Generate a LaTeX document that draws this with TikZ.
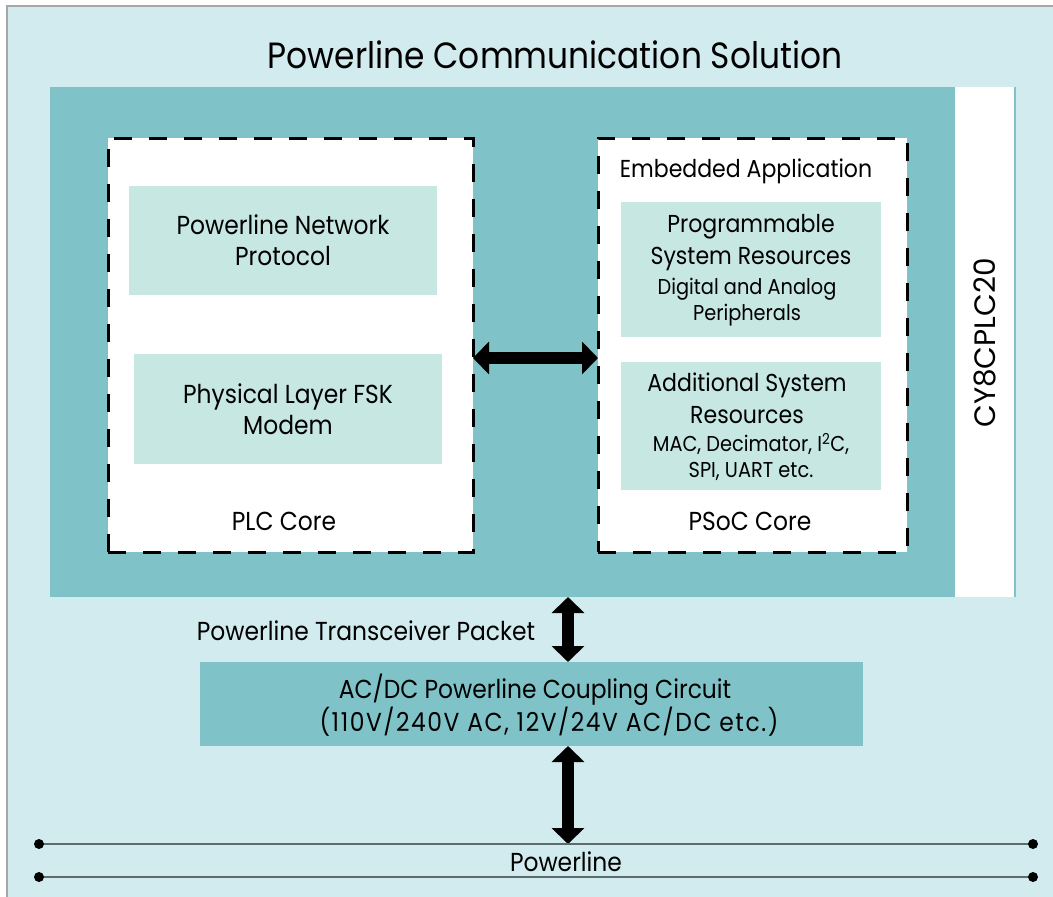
\documentclass[tikz,border=0pt]{standalone}
\usepackage{fontspec}
\setmainfont{Poppins}[FakeStretch=0.9]
\newfontfamily\widefont{Poppins}
\usetikzlibrary{arrows.meta}
\definecolor{lightbg}{HTML}{D2EBEE}
\definecolor{teal1}{HTML}{7FC3C8}
\definecolor{inner}{HTML}{C6E7E2}
\definecolor{wire}{HTML}{5C6B6B}
\tikzset{
  every node/.style={font=\fontsize{26}{31}\selectfont, align=center, inner sep=0pt, outer sep=0pt},
  dbox/.style={draw=black, fill=white, line width=3pt, dash pattern=on 18pt off 17pt},
  ibox/.style={fill=inner},
  bigarrow/.style={line width=12pt, {Triangle[width=32pt,length=16pt]}-{Triangle[width=32pt,length=16pt]}},
  small/.style={font=\fontsize{21.5}{26}\selectfont},
  mid/.style={font=\fontsize{24.5}{32}\selectfont}
}
\begin{document}
\begin{tikzpicture}[x=1pt,y=-1pt]
\useasboundingbox (0,0) rectangle (1053,897);
\fill[white] (0,0) rectangle (1053,897);
\fill[lightbg] (7,6) rectangle (1053,897);
\draw[gray!70, line width=1.5pt] (7,897) -- (7,6) -- (1053,6);
\node[font=\fontsize{36.5}{42}\selectfont] (title) at (555,55) {Powerline Communication Solution};
\node[fill=teal1, minimum width=905pt, minimum height=510pt] (chip) at (502.5,342) {};
\node[fill=white, minimum width=60pt, minimum height=510pt] (strip) at (985,342) {};
\draw[teal1, line width=1.5pt] (strip.north east) -- (strip.south east);
\node[rotate=90, font=\widefont\fontsize{29.5}{32}\selectfont] (chipname) at (985,343) {CY8CPLC20};
\node[dbox, minimum width=365pt, minimum height=414pt] (plc) at (290.5,345) {};
\node[dbox, minimum width=309pt, minimum height=414pt] (psoc) at (752.5,345) {};
\node[ibox, minimum width=308pt, minimum height=109pt] (pnp) at (283,240.5) {Powerline Network\\Protocol};
\node[ibox, minimum width=308pt, minimum height=110pt] (phy) at (288,409) {Physical Layer FSK\\Modem};
\node (plclbl) at (284,521) {PLC Core};
\node[mid] (embapp) at (746,171) {Embedded Application};
\node[ibox, minimum width=260pt, minimum height=135pt] (prog) at (751,269.5) {};
\node[mid] (progt) at (751,242.5) {Programmable\\System Resources};
\node[small] (progs) at (747,302) {Digital and Analog\\Peripherals};
\node[ibox, minimum width=260pt, minimum height=128pt] (add) at (751,426) {};
\node[mid] (addt) at (747,398) {Additional System\\Resources};
\node[small] (adds) at (751,457) {MAC, Decimator, I\textsuperscript{2}C,\\SPI, UART etc.};
\node (psoclbl) at (750,521) {PSoC Core};
\draw[bigarrow] (plc.east |- 0,358) -- (psoc.west |- 0,358);
\node[fill=teal1, minimum width=663pt, minimum height=84pt] (coup) at (531.5,704) {};
\node (coupt) at (549,705) {AC/DC Powerline Coupling Circuit\hspace*{28pt}\\{\addfontfeatures{LetterSpace=6}(110V/240V AC, 12V/24V AC/DC etc.)}};
\node (pkt) at (366,631) {Powerline Transceiver Packet};
\coordinate (l1a) at (39,844);
\coordinate (l1b) at (1033,844);
\coordinate (l2a) at (39,877);
\coordinate (l2b) at (1033,877);
\draw[bigarrow] (568,0 |- chip.south) -- (568,0 |- coup.north);
\draw[bigarrow] (568,0 |- coup.south) -- (568,0 |- l1a);
\draw[wire, line width=2pt] (l1a) -- (l1b);
\draw[wire, line width=2pt] (l2a) -- (l2b);
\foreach \p in {l1a,l1b,l2a,l2b} \fill[black] (\p) circle (5pt);
\node (pl) at (566,862) {Powerline};
\end{tikzpicture}
\end{document}
